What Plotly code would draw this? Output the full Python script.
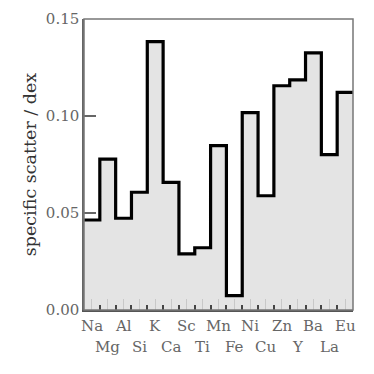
import plotly.graph_objects as go

elements = ["Na", "Mg", "Al", "Si", "K", "Ca", "Sc", "Ti", "Mn",
            "Fe", "Ni", "Cu", "Zn", "Y", "Ba", "La", "Eu"]
scatter = [0.0464, 0.0778, 0.0473, 0.0607, 0.1383, 0.0658, 0.0289, 0.0321, 0.0847,
           0.0074, 0.1017, 0.0589, 0.1156, 0.1186, 0.1325, 0.0801, 0.1122]
yticks = [0.00, 0.05, 0.10, 0.15]

n = len(elements)
edges = list(range(n + 1))
ys = scatter + [scatter[-1]]

fig = go.Figure()
fig.add_trace(go.Scatter(
    x=edges, y=ys, mode="lines", line_shape="hv",
    line=dict(color="black", width=3.2),
    fill="tozeroy", fillcolor="#e4e4e4",
    hoverinfo="skip", showlegend=False,
))

font = "DejaVu Serif"
fig.update_xaxes(
    range=[0, n], tickmode="array",
    tickvals=[i + 0.5 for i in range(n)], ticktext=[""] * n,
    automargin=False,
    ticks="inside", ticklen=11, tickwidth=1, tickcolor="#c8c8c8",
    minor=dict(tickmode="linear", tick0=0, dtick=1, ticks="inside",
               ticklen=5, tickwidth=2, tickcolor="#444"),
    showgrid=False, zeroline=False,
    showline=True, linecolor="#555", linewidth=2, mirror=False,
)
# element labels, alternating on two rows
for i, el in enumerate(elements):
    fig.add_annotation(x=i + 0.5, xref="x", y=0, yref="paper",
                       yanchor="middle",
                       yshift=-16 if i % 2 == 0 else -37,
                       text=el, showarrow=False,
                       font=dict(family=font, size=15, color="#666"))
fig.update_yaxes(
    range=[0, 0.15], tickmode="array", tickvals=yticks,
    ticktext=["%.2f" % v for v in yticks], automargin=False,
    ticks="inside", ticklen=12, tickwidth=1.5, tickcolor="#666",
    showgrid=False, zeroline=False,
    showline=True, linecolor="#666", linewidth=1.5, mirror=False,
    tickfont=dict(family=font, size=15, color="#666"),
    title=dict(text="specific scatter / dex", standoff=5,
               font=dict(family=font, size=17.5, color="#333")),
)
# frame on top and right
fig.add_shape(type="rect", xref="paper", yref="paper", x0=0, x1=1, y0=0, y1=1,
              line=dict(color="#777", width=1.5), layer="above")

fig.update_layout(
    width=374, height=374,
    margin=dict(l=76, r=29, t=11, b=72),
    plot_bgcolor="white", paper_bgcolor="white",
)

fig.write_html("out.html")
